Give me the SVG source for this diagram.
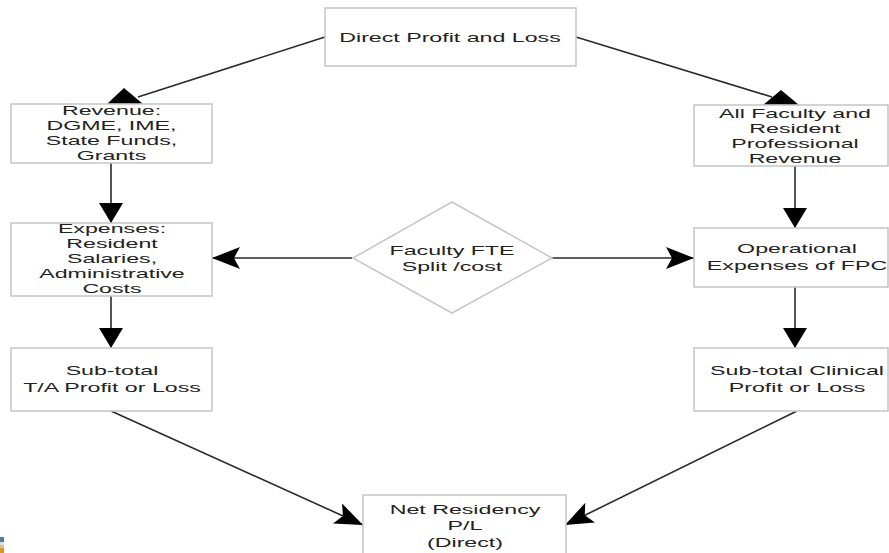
<svg xmlns="http://www.w3.org/2000/svg" width="889" height="553" viewBox="0 0 889 553">
<style>
.box{fill:#fff;stroke:#c9c9c9;stroke-width:1.6}
.t{font-family:"Liberation Sans",Arial,sans-serif;font-size:13.4px;fill:#222;text-anchor:middle}
.c{fill:none;stroke:#2a2a2a;stroke-width:1.6}
.head{fill:#000}
</style>
<defs>
<marker id="tri" markerUnits="userSpaceOnUse" viewBox="0 0 20 24" refX="20" refY="12" markerWidth="20" markerHeight="24" orient="auto">
<path d="M0,0 L20,12 L0,24 z" fill="#000"/>
</marker>
<marker id="notch" markerUnits="userSpaceOnUse" viewBox="0 0 28 22" refX="28" refY="11" markerWidth="28" markerHeight="22" orient="auto">
<path d="M0,0 L28,11 L0,22 L6,11 z" fill="#000"/>
</marker>
</defs>
<rect width="889" height="553" fill="#fff"/>

<g id="connectors">
<path class="c" d="M325,37 L138,97"/>
<polygon class="head" points="124,88 107,104 143,104"/>
<path class="c" d="M576,37 L772,97"/>
<polygon class="head" points="781,90 763,105 799,105"/>
<path class="c" d="M111,163 L111,223" marker-end="url(#tri)"/>
<path class="c" d="M795,166 L795,228" marker-end="url(#tri)"/>
<path class="c" d="M352,258 L212,258" marker-end="url(#notch)"/>
<path class="c" d="M552,258 L694,258" marker-end="url(#notch)"/>
<path class="c" d="M111,296 L111,348" marker-end="url(#tri)"/>
<path class="c" d="M795,287 L795,348" marker-end="url(#tri)"/>
<path class="c" d="M111,411 L363,525" marker-end="url(#notch)"/>
<path class="c" d="M797,411 L565,525" marker-end="url(#notch)"/>
</g>

<g id="direct-pl">
<rect class="box" x="325" y="8" width="251" height="58"/>
<text class="t" transform="translate(450,42) scale(1.73,1)">Direct Profit and Loss</text>
</g>

<g id="revenue">
<rect class="box" x="11" y="104" width="201" height="59"/>
<text class="t" transform="translate(111.5,115) scale(1.73,1)">Revenue:</text>
<text class="t" transform="translate(111.5,130) scale(1.73,1)">DGME, IME,</text>
<text class="t" transform="translate(111.5,145) scale(1.73,1)">State Funds,</text>
<text class="t" transform="translate(111.5,160) scale(1.73,1)">Grants</text>
</g>

<g id="faculty-revenue">
<rect class="box" x="694" y="105" width="194" height="61"/>
<text class="t" transform="translate(795,118) scale(1.73,1)">All Faculty and</text>
<text class="t" transform="translate(795,133) scale(1.73,1)">Resident</text>
<text class="t" transform="translate(795,148) scale(1.73,1)">Professional</text>
<text class="t" transform="translate(795,163) scale(1.73,1)">Revenue</text>
</g>

<g id="expenses">
<rect class="box" x="11" y="223" width="201" height="73"/>
<text class="t" transform="translate(112,233) scale(1.73,1)">Expenses:</text>
<text class="t" transform="translate(112,248) scale(1.73,1)">Resident</text>
<text class="t" transform="translate(112,263) scale(1.73,1)">Salaries,</text>
<text class="t" transform="translate(112,278) scale(1.73,1)">Administrative</text>
<text class="t" transform="translate(112,293) scale(1.73,1)">Costs</text>
</g>

<g id="faculty-fte">
<polygon class="box" points="353,258 452,202 552,258 452,313"/>
<text class="t" transform="translate(452,255) scale(1.73,1)">Faculty FTE</text>
<text class="t" transform="translate(452,271) scale(1.73,1)">Split /cost</text>
</g>

<g id="operational">
<rect class="box" x="694" y="228" width="194" height="59"/>
<text class="t" transform="translate(797,253) scale(1.73,1)">Operational</text>
<text class="t" transform="translate(797,270) scale(1.73,1)">Expenses of FPC</text>
</g>

<g id="subtotal-ta">
<rect class="box" x="11" y="348" width="201" height="63"/>
<text class="t" transform="translate(112,375) scale(1.73,1)">Sub-total</text>
<text class="t" transform="translate(112,392) scale(1.73,1)">T/A Profit or Loss</text>
</g>

<g id="subtotal-clinical">
<rect class="box" x="694" y="348" width="194" height="63"/>
<text class="t" transform="translate(797,375) scale(1.73,1)">Sub-total Clinical</text>
<text class="t" transform="translate(797,392) scale(1.73,1)">Profit or Loss</text>
</g>

<g id="net-residency">
<rect class="box" x="363" y="495" width="203" height="60"/>
<text class="t" transform="translate(465,514) scale(1.73,1)">Net Residency</text>
<text class="t" transform="translate(465,530) scale(1.73,1)">P/L</text>
<text class="t" transform="translate(465,547) scale(1.73,1)">(Direct)</text>
</g>

<g id="corner-fragment">
<rect x="0" y="537" width="4" height="5" fill="#4f7b96"/>
<rect x="0" y="542" width="4" height="3" fill="#d9dfe4"/>
<rect x="0" y="545" width="4" height="3" fill="#e8c27a"/>
<rect x="0" y="548" width="4" height="5" fill="#d39a2c"/>
</g>
</svg>
